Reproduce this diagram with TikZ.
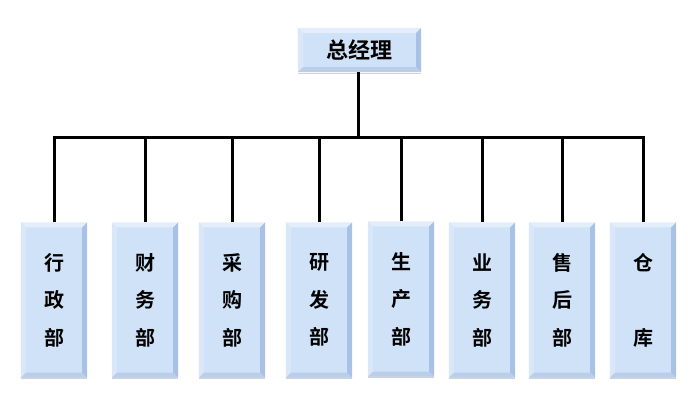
\documentclass[tikz,border=0pt]{standalone}
\usepackage{fontspec}
\newfontfamily\cjk{Noto Sans CJK SC Bold}
\usetikzlibrary{calc}
\definecolor{face}{HTML}{CFE2F7}
\definecolor{bvtop}{HTML}{E3EEFB}
\definecolor{bvleft}{HTML}{DAE7F8}
\definecolor{bvright}{HTML}{A9C1E5}
\definecolor{bvbot}{HTML}{BACEEA}
\tikzset{
  x=1pt,y=-1pt,
  boxbase/.style={fill=face,inner sep=0pt,align=center,text=black},
  topbox/.style={boxbase,minimum width=123pt,minimum height=44pt,font={\cjk\fontsize{22}{24}\selectfont}},
  deptbox/.style={boxbase,minimum width=66pt,minimum height=155pt,font={\cjk\fontsize{20}{37.5}\selectfont}},
  conn/.style={line width=3pt,black},
}
\newcommand{\bevelbox}[1]{%
  \fill[bvtop] (#1.north west) -- (#1.north east) -- ([shift={(-5pt,-5pt)}]#1.north east) -- ([shift={(5pt,-5pt)}]#1.north west) -- cycle;
  \fill[bvleft] (#1.north west) -- (#1.south west) -- ([shift={(5pt,5pt)}]#1.south west) -- ([shift={(5pt,-5pt)}]#1.north west) -- cycle;
  \fill[bvright] (#1.north east) -- (#1.south east) -- ([shift={(-5pt,5pt)}]#1.south east) -- ([shift={(-5pt,-5pt)}]#1.north east) -- cycle;
  \fill[bvbot] (#1.south west) -- (#1.south east) -- ([shift={(-5pt,5pt)}]#1.south east) -- ([shift={(5pt,5pt)}]#1.south west) -- cycle;
  \draw[black!18,line width=1pt] ([yshift=-1pt]#1.south west) -- ([yshift=-1pt]#1.south east);
}
\begin{document}
\begin{tikzpicture}
\useasboundingbox[fill=white] (0,0) rectangle (700,400);
\node[topbox] (gm) at (359.5,50) {总经理};
\node[deptbox] (d1) at (54,300) {行\\政\\部};
\node[deptbox] (d2) at (145,300) {财\\务\\部};
\node[deptbox] (d3) at (232,300) {采\\购\\部};
\node[deptbox] (d4) at (319,300) {研\\发\\部};
\node[deptbox] (d5) at (401,299) {生\\产\\部};
\node[deptbox] (d6) at (482,300) {业\\务\\部};
\node[deptbox] (d7) at (562,300) {售\\后\\部};
\node[deptbox] (d8) at (643,300) {仓\\\mbox{}\\库};
\foreach \n in {gm,d1,d2,d3,d4,d5,d6,d7,d8} {\bevelbox{\n}}
\coordinate (bus) at (358,137);
\draw[conn] (gm.south -| bus) -- (bus);
\draw[conn] ([xshift=-1.5pt]d1.north |- bus) -- ([xshift=1.5pt]d8.north |- bus);
\foreach \n in {d1,d2,d3,d4,d5,d6,d7,d8} {\draw[conn] (\n.north) -- (\n.north |- bus);}
\end{tikzpicture}
\end{document}
